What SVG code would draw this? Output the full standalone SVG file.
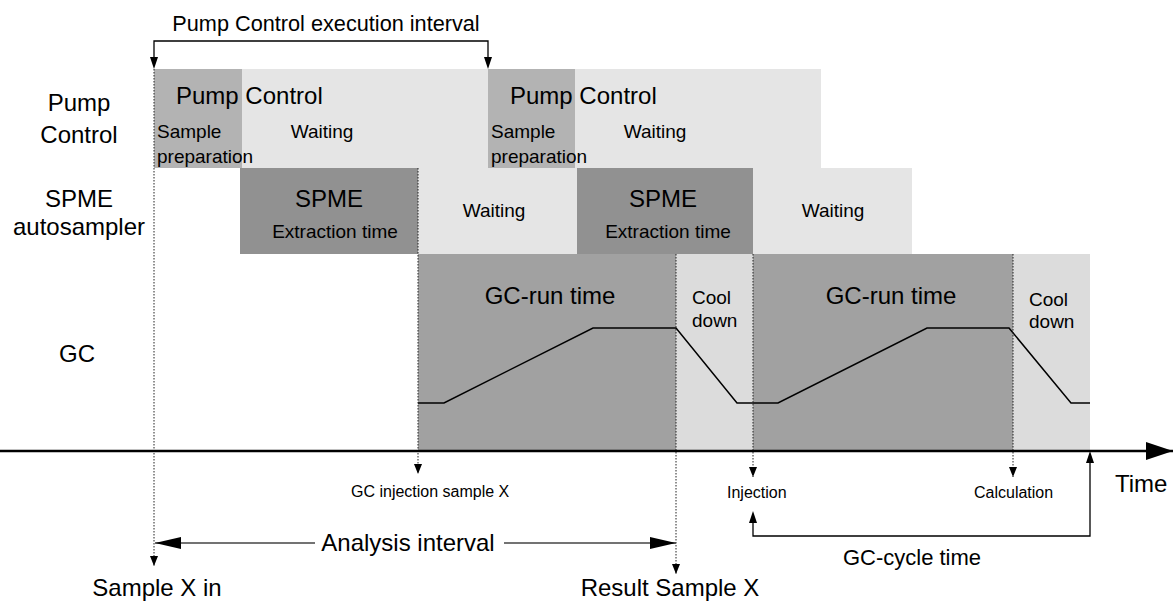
<svg xmlns="http://www.w3.org/2000/svg" width="1173" height="603" viewBox="0 0 1173 603">
<style>
text{font-family:"Liberation Sans",Arial,sans-serif;fill:#000}
.big{font-size:24px}
.mid{font-size:22px}
.sm{font-size:19px}
.xs{font-size:16px}
.prep{fill:#b3b3b3}
.wait{fill:#e5e5e5}
.spme{fill:#919191}
.gc{fill:#a1a1a1}
.cool{fill:#dcdcdc}
.dot{stroke:#222;stroke-width:1;stroke-dasharray:1.5,1.5;fill:none}
.ln{stroke:#000;stroke-width:1.3;fill:none}
.curve{stroke:#000;stroke-width:1.5;fill:none}
</style>
<defs>
<marker id="ah" viewBox="0 0 10 8" refX="10" refY="4" markerWidth="10" markerHeight="8" markerUnits="userSpaceOnUse" orient="auto"><path d="M0,0 L10,4 L0,8 Z" fill="#000"/></marker>
<marker id="ahBig" viewBox="0 0 26 12" refX="26" refY="6" markerWidth="26" markerHeight="12" markerUnits="userSpaceOnUse" orient="auto"><path d="M0,0 L26,6 L0,12 Z" fill="#000"/></marker>
<marker id="ahAxis" viewBox="0 0 27 18" refX="27" refY="9" markerWidth="27" markerHeight="18" markerUnits="userSpaceOnUse" orient="auto"><path d="M0,0 L27,9 L0,18 Z" fill="#000"/></marker>
</defs>

<g id="row-labels">
<text class="big" x="79" y="111" text-anchor="middle">Pump</text>
<text class="big" x="79" y="143" text-anchor="middle">Control</text>
<text class="big" x="79" y="207" text-anchor="middle">SPME</text>
<text class="big" x="79" y="235" text-anchor="middle">autosampler</text>
<text class="big" x="77" y="362" text-anchor="middle">GC</text>
</g>

<g id="pump-wait-1"><rect class="wait" x="242" y="69" width="246" height="99"/><text class="sm" x="322" y="138" text-anchor="middle">Waiting</text></g>
<g id="pump-prep-1"><rect class="prep" x="154" y="69" width="88" height="99"/><text class="sm" x="157" y="138">Sample</text><text class="sm" x="157" y="163">preparation</text></g>
<g id="pump-title-1"><text class="big" x="176" y="104">Pump Control</text></g>

<g id="pump-wait-2"><rect class="wait" x="575" y="69" width="246" height="99"/><text class="sm" x="655" y="138" text-anchor="middle">Waiting</text></g>
<g id="pump-prep-2"><rect class="prep" x="488" y="69" width="87" height="99"/><text class="sm" x="491" y="138">Sample</text><text class="sm" x="491" y="163">preparation</text></g>
<g id="pump-title-2"><text class="big" x="510" y="104">Pump Control</text></g>

<g id="spme-1"><rect class="spme" x="240" y="168" width="178" height="86"/><text class="big" x="329" y="207" text-anchor="middle">SPME</text><text class="sm" x="335" y="238" text-anchor="middle">Extraction time</text></g>
<g id="spme-wait-1"><rect class="wait" x="418" y="168" width="159" height="86"/><text class="sm" x="494" y="217" text-anchor="middle">Waiting</text></g>
<g id="spme-2"><rect class="spme" x="577" y="168" width="176" height="86"/><text class="big" x="663" y="207" text-anchor="middle">SPME</text><text class="sm" x="668" y="238" text-anchor="middle">Extraction time</text></g>
<g id="spme-wait-2"><rect class="wait" x="753" y="168" width="159" height="86"/><text class="sm" x="833" y="217" text-anchor="middle">Waiting</text></g>

<g id="gc-run-1"><rect class="gc" x="418" y="254" width="258" height="197"/><text class="big" x="550" y="304" text-anchor="middle">GC-run time</text></g>
<g id="gc-cool-1"><rect class="cool" x="676" y="254" width="77" height="197"/><text class="sm" x="692" y="304">Cool</text><text class="sm" x="692" y="327">down</text></g>
<g id="gc-run-2"><rect class="gc" x="753" y="254" width="260" height="197"/><text class="big" x="891" y="304" text-anchor="middle">GC-run time</text></g>
<g id="gc-cool-2"><rect class="cool" x="1013" y="254" width="77" height="197"/><text class="sm" x="1029" y="306">Cool</text><text class="sm" x="1029" y="328">down</text></g>

<g id="temperature-profile">
<polyline class="curve" points="418,403 444,403 593,328 676,328 737,403 778,403 927,328 1009,328 1071,403 1090,403"/>
</g>

<g id="connectors">
<polyline class="ln" points="154,58 154,41 488,41 488,58"/>
<path d="M150,57 L158,57 L154,69 Z" fill="#000"/>
<path d="M484,57 L492,57 L488,69 Z" fill="#000"/>
<line class="dot" x1="154" y1="69" x2="154" y2="566" marker-end="url(#ah)"/>
<line class="dot" x1="418" y1="168" x2="418" y2="474" marker-end="url(#ah)"/>
<line class="dot" x1="676" y1="254" x2="676" y2="574" marker-end="url(#ah)"/>
<line class="dot" x1="753" y1="254" x2="753" y2="477" marker-end="url(#ah)"/>
<line class="dot" x1="1013" y1="254" x2="1013" y2="477" marker-end="url(#ah)"/>
<line x1="0" y1="451" x2="1173" y2="451" stroke="#000" stroke-width="2.5" marker-end="url(#ahAxis)"/>
<line x1="315" y1="543" x2="155" y2="543" stroke="#444" stroke-width="1.5" marker-end="url(#ahBig)"/>
<line x1="504" y1="543" x2="676" y2="543" stroke="#444" stroke-width="1.5" marker-end="url(#ahBig)"/>
<polyline class="ln" points="753,523 753,536 1090,536 1090,463"/>
<path d="M749,523 L757,523 L753,511 Z" fill="#000"/>
<path d="M1086,463 L1094,463 L1090,451 Z" fill="#000"/>
</g>

<g id="annotations">
<text x="326" y="31" text-anchor="middle" style="font-size:21.7px">Pump Control execution interval</text>
<text class="xs" x="351" y="497">GC injection sample X</text>
<text class="xs" x="727" y="498">Injection</text>
<text class="xs" x="974" y="498">Calculation</text>
<text class="big" x="1115" y="492">Time</text>
<text class="big" x="408" y="551" text-anchor="middle">Analysis interval</text>
<text class="mid" x="912" y="565" text-anchor="middle">GC-cycle time</text>
<text class="big" x="157" y="596" text-anchor="middle">Sample X in</text>
<text class="big" x="670" y="596" text-anchor="middle">Result Sample X</text>
</g>
</svg>
